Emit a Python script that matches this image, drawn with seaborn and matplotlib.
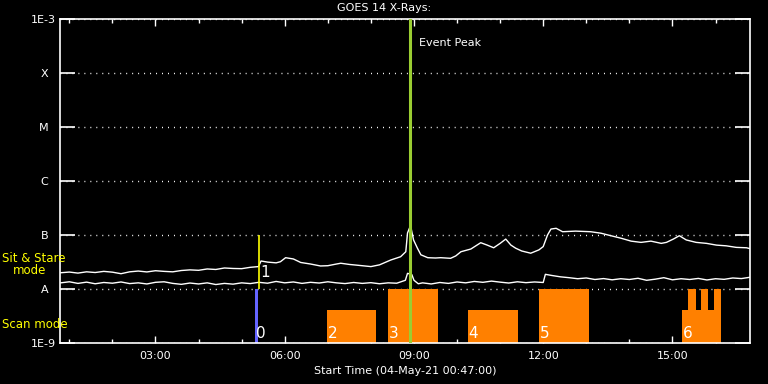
import numpy as np
import pandas as pd
import seaborn as sns
import matplotlib
matplotlib.use('Agg')
import matplotlib.pyplot as plt
from matplotlib.ticker import FixedLocator, MultipleLocator, NullLocator

# time in hours after 00:00 on 04-May-21, flux in units of 1e-8 W/m2
hours_long = [0.8, 1.0, 1.2, 1.4, 1.6, 1.8, 2.0, 2.2, 2.4, 2.6, 2.8, 3.0, 3.2, 3.4,
              3.6, 3.8, 4.0, 4.2, 4.4, 4.6, 4.8, 5.0, 5.2, 5.39, 5.45, 5.6, 5.8,
              5.9, 6.02, 6.2, 6.37, 6.6, 6.83, 7.0, 7.2, 7.3, 7.5, 7.7, 8.0, 8.2,
              8.46, 8.69, 8.81, 8.85, 8.92, 8.99, 9.08, 9.16, 9.32, 9.5, 9.62, 9.85,
              9.97, 10.09, 10.32, 10.55, 10.7, 10.85, 11.0, 11.13, 11.25, 11.36,
              11.5, 11.71, 11.9, 12.0, 12.1, 12.18, 12.3, 12.45, 12.75, 13.1, 13.34,
              13.57, 13.81, 14.04, 14.27, 14.5, 14.74, 14.86, 15.02, 15.16, 15.32,
              15.55, 15.79, 16.02, 16.25, 16.48, 16.72, 16.83]
flux_long = [2.00, 2.06, 1.97, 2.08, 2.02, 2.12, 2.05, 1.92, 2.08, 2.15, 2.07, 2.18,
             2.12, 2.08, 2.20, 2.26, 2.22, 2.35, 2.30, 2.45, 2.40, 2.38, 2.52, 2.60,
             3.30, 3.15, 3.05, 3.20, 3.80, 3.60, 3.10, 2.90, 2.67, 2.70, 2.90, 3.00,
             2.85, 2.75, 2.60, 2.80, 3.44, 3.96, 4.90, 10.9, 15.0, 8.1, 5.7, 4.3,
             3.8, 3.75, 3.8, 3.7, 4.1, 4.9, 5.5, 7.2, 6.5, 5.8, 7.0, 8.4, 6.5, 5.7,
             5.06, 4.6, 5.3, 6.1, 10.0, 12.9, 13.3, 11.5, 11.8, 11.5, 10.8, 9.7, 8.7,
             7.7, 7.3, 7.7, 7.0, 7.3, 8.4, 9.7, 8.1, 7.3, 7.0, 6.5, 6.3, 5.9, 5.8, 5.5]

hours_short = [0.8, 1.0, 1.2, 1.4, 1.6, 1.8, 2.0, 2.2, 2.4, 2.6, 2.8, 3.0, 3.2, 3.4,
               3.6, 3.8, 4.0, 4.2, 4.4, 4.6, 4.8, 5.0, 5.2, 5.4, 5.6, 5.8, 6.0, 6.2,
               6.4, 6.6, 6.8, 7.0, 7.2, 7.4, 7.6, 7.8, 8.0, 8.2, 8.4, 8.6, 8.8, 8.85,
               8.95, 9.0, 9.1, 9.2, 9.4, 9.6, 9.8, 10.0, 10.2, 10.4, 10.6, 10.8, 11.0,
               11.2, 11.4, 11.6, 11.8, 12.0, 12.05, 12.2, 12.4, 12.6, 12.8, 13.0, 13.2,
               13.4, 13.6, 13.8, 14.0, 14.2, 14.4, 14.6, 14.8, 15.0, 15.2, 15.4, 15.6,
               15.8, 16.0, 16.2, 16.4, 16.6, 16.8]
flux_short = [1.30, 1.36, 1.27, 1.34, 1.25, 1.32, 1.28, 1.35, 1.26, 1.30, 1.24, 1.33,
              1.36, 1.27, 1.22, 1.29, 1.24, 1.30, 1.21, 1.27, 1.23, 1.30, 1.26, 1.33,
              1.28, 1.38, 1.30, 1.35, 1.27, 1.33, 1.29, 1.36, 1.30, 1.26, 1.32, 1.27,
              1.31, 1.25, 1.30, 1.28, 1.45, 1.95, 1.85, 1.45, 1.25, 1.30, 1.24, 1.32,
              1.27, 1.35, 1.30, 1.38, 1.33, 1.40, 1.34, 1.29, 1.36, 1.31, 1.35, 1.32,
              1.87, 1.78, 1.68, 1.62, 1.55, 1.60, 1.50, 1.56, 1.48, 1.55, 1.50, 1.58,
              1.45, 1.52, 1.62, 1.48, 1.55, 1.50, 1.57, 1.47, 1.55, 1.51, 1.60, 1.56,
              1.65]

# scan mode blocks
scan_start = [6.97, 8.39, 10.25, 11.90, 15.23, 15.37, 15.67, 15.97]
scan_end = [8.13, 9.55, 11.41, 13.06, 16.13, 15.55, 15.83, 16.13]
scan_top = [4.1e-9, 1e-8, 4.1e-9, 1e-8, 4.1e-9, 1e-8, 1e-8, 1e-8]
scan_ids = ['2', '3', '4', '5', '6']
scan_id_hours = [6.97, 8.39, 10.25, 11.90, 15.23]

# sit & stare
stare_start, stare_end = 5.32, 5.39
stare_line = 5.40
peak_hour = 8.90

hour_ticks = [3, 6, 9, 12, 15]
hour_labels = ['03:00', '06:00', '09:00', '12:00', '15:00']
flux_ticks = [1e-9, 1e-8, 1e-7, 1e-6, 1e-5, 1e-4, 1e-3]
flux_labels = ['1E-9', 'A  ', 'B  ', 'C  ', 'M  ', 'X  ', '1E-3']

sns.set_theme(style='dark', rc={'axes.facecolor': 'black', 'figure.facecolor': 'black',
                                'axes.edgecolor': 'white', 'text.color': 'white'})
plt.rcParams['font.family'] = ['DejaVu Sans']

fig = plt.figure(figsize=(7.68, 3.84), dpi=100)
ax = fig.add_axes([60/768, 41/384, 690/768, 324/384])

ax.bar(scan_start, np.array(scan_top) - 1e-9, width=np.array(scan_end) - np.array(scan_start),
       bottom=1e-9, align='edge', color='#ff8000', linewidth=0, zorder=1)
ax.bar([stare_start], [1e-8 - 1e-9], width=stare_end - stare_start, bottom=1e-9,
       align='edge', color='#6464ff', linewidth=0, zorder=1)

df_long = pd.DataFrame({'hour': hours_long, 'flux': np.array(flux_long) * 1e-8})
df_short = pd.DataFrame({'hour': hours_short, 'flux': np.array(flux_short) * 1e-8})
sns.lineplot(data=df_long, x='hour', y='flux', ax=ax, color='white', lw=1,
             estimator=None, zorder=3)
sns.lineplot(data=df_short, x='hour', y='flux', ax=ax, color='white', lw=1,
             estimator=None, zorder=3)

ax.vlines(stare_line, 1e-8, 1e-7, color='#ffff00', lw=1.2, zorder=4)
ax.axvline(peak_hour, color='#9acd32', lw=2.2, zorder=5)

ax.set_yscale('log')
ax.set_ylim(1e-9, 1e-3)
ax.set_xlim(0.7833, 16.8)

ax.yaxis.set_major_locator(FixedLocator(flux_ticks))
ax.yaxis.set_minor_locator(NullLocator())
ax.set_yticklabels(flux_labels)
ax.xaxis.set_major_locator(FixedLocator(hour_ticks))
ax.xaxis.set_minor_locator(MultipleLocator(1))
ax.set_xticklabels(hour_labels)

ax.yaxis.grid(True, color='white', linestyle=(0, (0.7, 3.6)), lw=1)
ax.xaxis.grid(False)
ax.tick_params(axis='y', which='major', direction='in', length=11, width=1.2,
               color='white', left=True, right=True, labelcolor='white',
               labelsize=8, pad=3)
ax.tick_params(axis='x', which='major', direction='in', length=5, width=1,
               color='white', bottom=True, top=True, labelcolor='white',
               labelsize=8, pad=6)
ax.tick_params(axis='x', which='minor', direction='in', length=3, width=1,
               color='white', bottom=True, top=True)
for s in ax.spines.values():
    s.set_color('white')
    s.set_linewidth(1.2)

ax.set_xlabel('Start Time (04-May-21 00:47:00)', color='white', fontsize=8, labelpad=3)
ax.set_ylabel('')

for h, lab in zip(scan_id_hours, scan_ids):
    ax.text(h + 0.02, 1.25e-9, lab, color='white', fontsize=11, ha='left', va='baseline', zorder=6)
ax.text(stare_start + 0.02, 1.25e-9, '0', color='white', fontsize=11, ha='left', va='baseline', zorder=6)
ax.text(stare_line + 0.03, 1.65e-8, '1', color='white', fontsize=11, ha='left', va='baseline', zorder=6)
ax.text(peak_hour + 0.21, 3.6e-4, 'Event Peak', color='white', fontsize=8, ha='left', va='center')

fig.text(0.5, 1 - 8/384, 'GOES 14 X-Rays:', color='white', fontsize=8, ha='center', va='center')
fig.text(2/768, 1 - 259/384, 'Sit & Stare', color='yellow', fontsize=8.5, ha='left', va='center')
fig.text(13/768, 1 - 271/384, 'mode', color='yellow', fontsize=8.5, ha='left', va='center')
fig.text(2/768, 1 - 324/384, 'Scan mode', color='yellow', fontsize=8.5, ha='left', va='center')

fig.savefig('out.png', dpi=100, facecolor='black')
